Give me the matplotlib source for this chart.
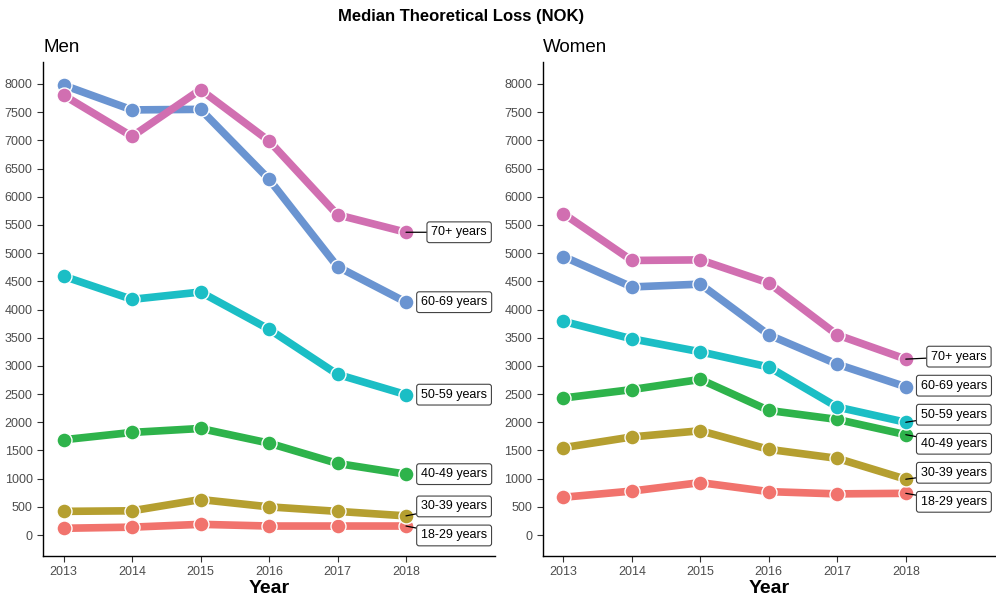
import matplotlib
matplotlib.use("Agg")
import matplotlib.pyplot as plt
import numpy as np

plt.rcParams['font.family'] = ['Liberation Sans', 'DejaVu Sans']

years = [2013, 2014, 2015, 2016, 2017, 2018]
groups = ["18-29 years", "30-39 years", "40-49 years", "50-59 years", "60-69 years", "70+ years"]
colors = ["#F1736D", "#B59F30", "#2EB34B", "#1BBEC5", "#6A94D1", "#D16FB1"]

men_18_29 = [120, 140, 190, 160, 160, 160]
men_30_39 = [420, 430, 630, 500, 420, 340]
men_40_49 = [1690, 1820, 1890, 1630, 1270, 1080]
men_50_59 = [4590, 4180, 4310, 3650, 2850, 2490]
men_60_69 = [7980, 7540, 7550, 6310, 4760, 4130]
men_70 = [7800, 7070, 7900, 6990, 5680, 5370]

women_18_29 = [670, 780, 930, 770, 730, 740]
women_30_39 = [1550, 1740, 1850, 1520, 1360, 990]
women_40_49 = [2430, 2580, 2760, 2210, 2050, 1780]
women_50_59 = [3790, 3480, 3250, 2980, 2270, 2000]
women_60_69 = [4940, 4400, 4450, 3550, 3030, 2630]
women_70 = [5700, 4870, 4880, 4470, 3550, 3120]

men = [men_18_29, men_30_39, men_40_49, men_50_59, men_60_69, men_70]
women = [women_18_29, women_30_39, women_40_49, women_50_59, women_60_69, women_70]


def repel(vals, gap):
    # push label positions apart (pooled groups centred on their mean)
    order = np.argsort(vals)
    blocks = [[vals[i]] for i in order]
    merged = True
    while merged:
        merged = False
        out = []
        for b in blocks:
            if out:
                prev = out[-1]
                ptop = np.mean(prev) + gap * (len(prev) - 1) / 2
                bbot = np.mean(b) - gap * (len(b) - 1) / 2
                if bbot - ptop < gap:
                    out[-1] = prev + b
                    merged = True
                    continue
            out.append(b)
        blocks = out
    pos = []
    for b in blocks:
        c = np.mean(b)
        n = len(b)
        pos += [c + gap * (k - (n - 1) / 2) for k in range(n)]
    res = np.empty(len(vals))
    res[order] = pos
    return res


def panel(ax, data, title):
    for vals, col in zip(data, colors):
        ax.plot(years, vals, color=col, lw=5.5, solid_capstyle='butt', zorder=2)
        ax.plot(years, vals, 'o', color=col, ms=10.8, mec='white', mew=1.0, zorder=3)
    ends = [v[-1] for v in data]
    labpos = repel(ends, 515)
    top = int(np.argmax(ends))
    for i, (name, v, ly) in enumerate(zip(groups, ends, labpos)):
        arrow = None
        tx = years[-1] + 0.22
        if i == top:
            # the top label sits a little further out, as in the original
            tx = years[-1] + 0.37
        if abs(ly - v) > 60 or i == top:
            arrow = dict(arrowstyle='-', color='black', lw=0.9, shrinkA=0, shrinkB=0)
        ax.annotate(name, xy=(years[-1], v), xytext=(tx, ly),
                    ha='left', va='center', fontsize=9, color='black', zorder=5,
                    bbox=dict(boxstyle='round,pad=0.35,rounding_size=0.2', fc='white',
                              ec='#444444', lw=0.8),
                    arrowprops=arrow)
    ax.set_xlim(2012.7, 2019.3)
    ax.set_ylim(-372, 8390)
    ax.set_xticks(years)
    ax.set_yticks(np.arange(0, 8001, 500))
    ax.tick_params(labelsize=9, labelcolor='#4D4D4D', length=4, width=0.8, color='#333333')
    for s in ['top', 'right']:
        ax.spines[s].set_visible(False)
    for s in ['left', 'bottom']:
        ax.spines[s].set_linewidth(1.0)
    ax.set_xlabel("Year", fontsize=14, fontweight='bold', labelpad=1)
    ax.set_title(title, loc='left', fontsize=13.5, pad=7)


fig = plt.figure(figsize=(9.96, 6), dpi=100)
ax1 = fig.add_axes([0.0432, 0.0733, 0.4538, 0.8234])
ax2 = fig.add_axes([0.545, 0.0733, 0.4538, 0.8234])
panel(ax1, men, "Men")
panel(ax2, women, "Women")
fig.suptitle("Median Theoretical Loss (NOK)", fontsize=12, fontweight='bold',
             x=0.463, y=0.985)
fig.savefig("out.png", dpi=100)
